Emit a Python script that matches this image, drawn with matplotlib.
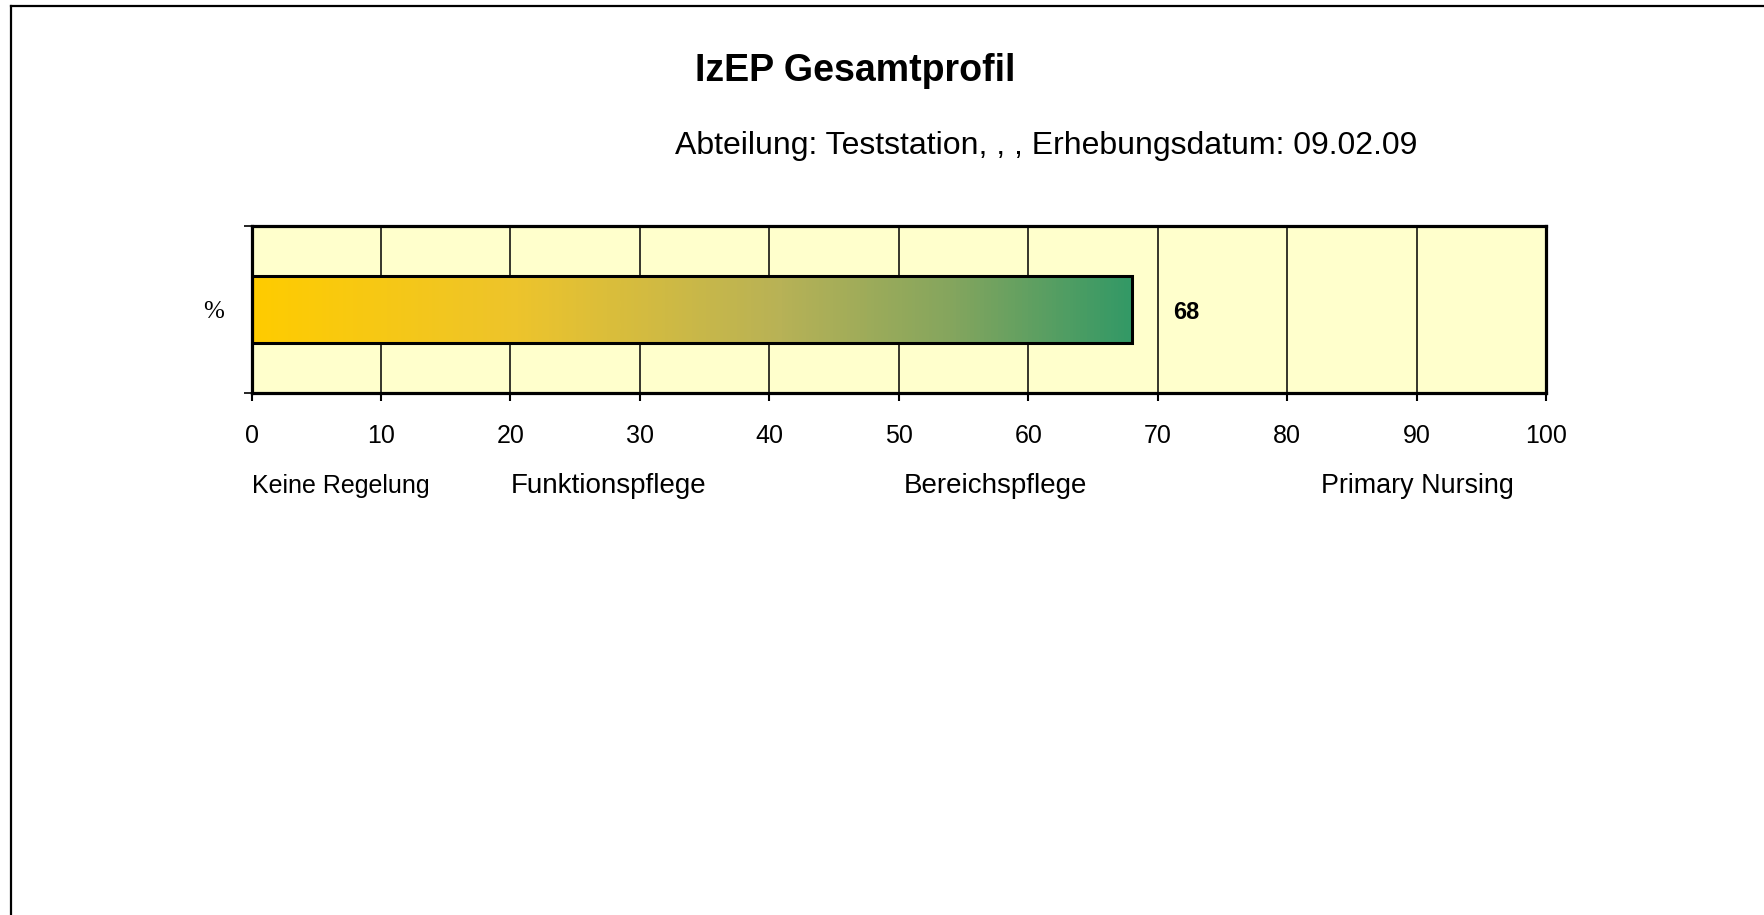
import numpy as np
import matplotlib
matplotlib.use("Agg")
from matplotlib import pyplot as plt
from matplotlib.colors import LinearSegmentedColormap
from matplotlib.lines import Line2D

# chart data
title = "IzEP Gesamtprofil"
subtitle = "Abteilung: Teststation, , , Erhebungsdatum: 09.02.09"
row_label = "%"
value = 68
x_ticks = [0, 10, 20, 30, 40, 50, 60, 70, 80, 90, 100]
categories = ["Keine Regelung", "Funktionspflege", "Bereichspflege", "Primary Nursing"]
category_pos = [0, 20, 50.4, 82.6]


def main():
    plt.rcParams['font.family'] = ['Liberation Sans', 'DejaVu Sans']
    fig = plt.figure(figsize=(17.65, 9.15), dpi=100)
    fig.patch.set_facecolor("white")

    ax = fig.add_axes([0.1425, 0.5705, 0.7335, 0.1825])
    ax.set_facecolor("#FFFFCC")

    # vertical grid lines
    ax.set_axisbelow(True)
    ax.grid(axis="x", color="black", linewidth=1.1)

    # bar with yellow -> green gradient
    bars = ax.barh(0.5, value, height=0.4, left=0, color="none",
                   edgecolor="black", linewidth=2.2, zorder=3)
    rect = bars[0]
    x0, y0 = rect.get_x(), rect.get_y()
    w, h = rect.get_width(), rect.get_height()
    cmap = LinearSegmentedColormap.from_list(
        "grad", [(0.0, "#FFCC00"), (0.3, "#EDC42C"), (0.6, "#B8B256"),
                 (0.8, "#83A55E"), (1.0, "#339966")])
    grad = np.linspace(0, 1, 256).reshape(1, -1)
    ax.imshow(grad, cmap=cmap, extent=[x0, x0 + w, y0, y0 + h],
              aspect="auto", zorder=2, interpolation="bilinear")
    ax.set_xlim(0, 100)
    ax.set_ylim(0, 1)

    ax.annotate(str(value), xy=(x0 + w, 0.5), xytext=(30, -2),
                textcoords="offset points", ha="left", va="center",
                fontsize=17, fontweight="bold", zorder=4)

    # axes, ticks
    for s in ax.spines.values():
        s.set_linewidth(2.3)
        s.set_color("black")
    ax.set_xticks(x_ticks)
    ax.set_xticklabels([str(t) for t in x_ticks], fontsize=18)
    ax.set_yticks([0, 1])
    ax.set_yticklabels([])
    ax.tick_params(axis="x", direction="out", length=6, width=1.5, pad=16)
    ax.tick_params(axis="y", direction="out", length=6, width=1.2)

    ax.annotate(row_label, xy=(0, 0.5), xycoords="axes fraction",
                xytext=(-20, -2), textcoords="offset points",
                ha="right", va="center", fontsize=18,
                family=["Liberation Serif", "DejaVu Serif"])

    label_sizes = [18, 20, 20, 19.4]
    for name, pos, fs in zip(categories, category_pos, label_sizes):
        ax.annotate(name, xy=(pos, 0), xycoords=("data", "axes fraction"),
                    xytext=(0, -67), textcoords="offset points",
                    ha="left", va="center", fontsize=fs)

    fig.text(0.4847, 0.9222, title, ha="center", va="center",
             fontsize=27, fontweight="bold")
    fig.text(0.593, 0.8400, subtitle, ha="center", va="center", fontsize=23)

    # page frame (top and left edge)
    fig.add_artist(Line2D([11.5 / 1765, 1.0], [1 - 5.5 / 915, 1 - 5.5 / 915],
                          transform=fig.transFigure, color="black", linewidth=1.6))
    fig.add_artist(Line2D([11.5 / 1765, 11.5 / 1765], [0.0, 1 - 5.5 / 915],
                          transform=fig.transFigure, color="black", linewidth=1.6))

    fig.savefig("out.png", dpi=100)


if __name__ == '__main__':
    main()
